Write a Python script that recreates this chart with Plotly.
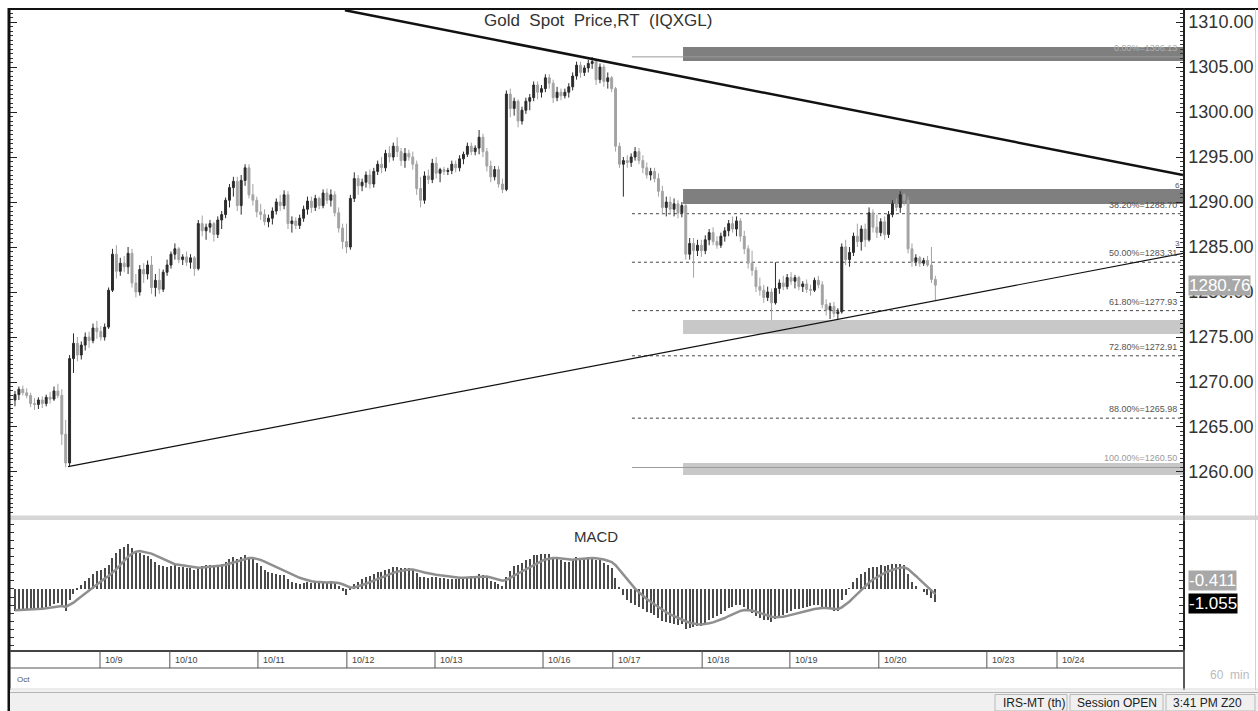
import plotly.graph_objects as go

# ---------------- data ----------------
open_ = [
 1268.0, 1268.6, 1269.2, 1268.8, 1268.5, 1267.6, 1267.5, 1268.0, 1267.6, 1268.3,
 1268.1, 1269.0, 1268.5, 1264.2, 1261.0, 1272.6, 1274.3, 1273.0, 1274.1, 1275.0,
 1274.6, 1276.0, 1275.6, 1275.0, 1276.1, 1280.2, 1284.2, 1282.3, 1283.2, 1282.8,
 1284.3, 1281.0, 1280.0, 1282.5, 1282.0, 1283.0, 1280.5, 1281.3, 1280.3, 1282.2,
 1283.0, 1284.2, 1284.8, 1283.6, 1283.9, 1283.3, 1283.8, 1282.6, 1287.6, 1286.8,
 1287.2, 1287.6, 1286.4, 1288.0, 1288.6, 1290.2, 1291.6, 1292.3, 1289.6, 1292.4,
 1293.8, 1290.8, 1290.2, 1288.9, 1288.6, 1287.8, 1288.2, 1289.0, 1290.0, 1289.6,
 1290.8, 1287.6, 1287.9, 1287.4, 1288.2, 1289.2, 1290.1, 1289.4, 1290.4, 1289.6,
 1291.0, 1290.2, 1290.8, 1288.8, 1287.1, 1285.6, 1285.0, 1290.4, 1292.6, 1291.8,
 1292.2, 1293.0, 1292.0, 1293.4, 1294.2, 1293.8, 1295.4, 1295.0, 1296.2, 1295.6,
 1294.6, 1295.4, 1295.0, 1294.2, 1291.5, 1290.2, 1292.9, 1292.5, 1294.3, 1293.2,
 1293.6, 1293.4, 1293.5, 1294.2, 1293.8, 1294.8, 1295.3, 1296.2, 1295.6, 1296.0,
 1297.2, 1295.6, 1294.0, 1292.8, 1293.6, 1292.0, 1291.4, 1302.0, 1300.4, 1301.2,
 1299.0, 1300.2, 1301.2, 1301.6, 1303.0, 1302.2, 1302.6, 1303.8, 1303.2, 1301.6,
 1302.2, 1301.8, 1302.2, 1302.8, 1304.0, 1305.2, 1304.4, 1304.9, 1305.4, 1305.6,
 1303.6, 1305.0, 1303.4, 1303.8, 1302.6, 1296.2, 1294.2, 1294.6, 1294.4, 1295.0,
 1295.6, 1294.6, 1293.8, 1293.0, 1293.4, 1292.6, 1291.2, 1289.4, 1290.0, 1289.2,
 1289.8, 1288.8, 1289.6, 1284.2, 1285.4, 1284.6, 1285.2, 1284.6, 1285.8, 1286.6,
 1285.6, 1285.2, 1286.2, 1286.8, 1287.6, 1287.0, 1287.9, 1286.2, 1284.8, 1283.2,
 1282.4, 1280.6, 1280.2, 1279.4, 1280.0, 1278.8, 1280.4, 1281.0, 1280.6, 1281.6,
 1281.2, 1281.6, 1280.6, 1280.9, 1280.3, 1280.2, 1281.3, 1280.8, 1278.6, 1278.0,
 1278.4, 1277.6, 1277.8, 1285.0, 1283.6, 1284.4, 1286.2, 1285.6, 1287.0, 1285.8,
 1288.8, 1287.2, 1286.6, 1287.8, 1286.4, 1288.6, 1289.8, 1289.4, 1290.8, 1290.2,
 1284.8, 1283.4, 1283.8, 1283.2, 1283.5, 1283.0, 1281.4]

high = [
 1269.0, 1269.5, 1269.6, 1269.3, 1268.8, 1268.2, 1268.3, 1268.4, 1268.6, 1268.9,
 1269.5, 1269.8, 1269.2, 1265.8, 1273.0, 1275.4, 1275.0, 1274.5, 1275.5, 1275.6,
 1276.5, 1276.8, 1276.2, 1276.5, 1280.5, 1284.8, 1285.2, 1283.8, 1284.0, 1285.0,
 1284.8, 1282.0, 1283.0, 1283.2, 1283.5, 1284.0, 1282.0, 1282.6, 1282.5, 1283.6,
 1284.5, 1285.4, 1285.0, 1284.2, 1284.5, 1284.2, 1284.0, 1288.0, 1288.5, 1287.6,
 1288.0, 1287.8, 1288.4, 1289.0, 1290.5, 1292.0, 1292.8, 1292.8, 1293.0, 1294.2,
 1294.2, 1292.0, 1290.6, 1289.8, 1289.2, 1288.6, 1289.4, 1290.4, 1290.8, 1291.3,
 1291.2, 1288.4, 1288.3, 1288.6, 1289.6, 1290.6, 1290.6, 1290.8, 1290.6, 1291.4,
 1291.5, 1291.4, 1291.2, 1289.4, 1287.6, 1287.6, 1290.8, 1293.3, 1293.0, 1292.6,
 1293.4, 1293.6, 1293.8, 1294.6, 1295.0, 1295.8, 1296.2, 1296.6, 1297.2, 1296.0,
 1296.0, 1295.8, 1295.6, 1294.6, 1292.8, 1293.4, 1293.6, 1294.8, 1295.0, 1293.8,
 1293.9, 1293.8, 1294.6, 1294.6, 1295.2, 1295.6, 1296.6, 1296.6, 1296.3, 1298.0,
 1297.6, 1296.0, 1294.6, 1294.0, 1294.0, 1292.6, 1302.4, 1302.6, 1301.6, 1301.4,
 1300.6, 1301.6, 1302.0, 1303.4, 1303.4, 1303.0, 1304.2, 1304.2, 1303.6, 1302.8,
 1302.6, 1302.6, 1303.2, 1304.4, 1305.6, 1305.6, 1305.2, 1305.8, 1306.1, 1305.9,
 1305.4, 1305.3, 1304.4, 1304.0, 1302.8, 1296.6, 1295.0, 1295.2, 1295.4, 1296.1,
 1296.0, 1295.2, 1294.4, 1293.8, 1293.8, 1293.2, 1291.8, 1290.6, 1290.6, 1290.4,
 1290.2, 1290.0, 1289.8, 1286.0, 1286.0, 1285.8, 1285.8, 1286.3, 1287.0, 1287.2,
 1286.2, 1286.6, 1287.2, 1288.0, 1288.4, 1288.4, 1288.2, 1286.8, 1285.2, 1284.6,
 1282.8, 1281.6, 1280.8, 1280.6, 1280.4, 1283.3, 1281.4, 1281.8, 1282.0, 1282.2,
 1281.9, 1281.8, 1281.2, 1281.4, 1280.8, 1281.6, 1281.8, 1281.2, 1279.2, 1278.8,
 1278.9, 1278.2, 1285.4, 1285.8, 1285.0, 1286.6, 1287.6, 1287.4, 1287.6, 1289.4,
 1289.2, 1288.6, 1288.2, 1288.4, 1289.0, 1290.2, 1290.4, 1291.2, 1291.0, 1290.6,
 1285.4, 1284.2, 1284.0, 1283.8, 1284.0, 1285.0, 1281.8]

low = [
 1267.3, 1268.0, 1268.5, 1268.2, 1267.2, 1266.9, 1267.0, 1267.1, 1267.3, 1267.6,
 1267.9, 1268.2, 1263.0, 1260.5, 1260.6, 1271.0, 1272.3, 1272.5, 1273.5, 1273.8,
 1274.3, 1274.8, 1274.6, 1274.6, 1275.9, 1280.0, 1281.5, 1281.8, 1282.2, 1282.0,
 1280.5, 1279.4, 1279.6, 1281.0, 1281.4, 1279.8, 1279.5, 1279.8, 1280.0, 1281.8,
 1282.6, 1283.6, 1283.2, 1283.0, 1282.9, 1282.6, 1281.8, 1282.4, 1286.2, 1285.8,
 1286.6, 1285.6, 1286.0, 1287.0, 1288.2, 1289.4, 1290.6, 1289.0, 1288.6, 1291.8,
 1290.4, 1289.6, 1288.3, 1288.0, 1287.4, 1287.2, 1287.5, 1288.6, 1289.0, 1289.2,
 1287.0, 1286.6, 1287.0, 1287.0, 1287.8, 1288.6, 1288.8, 1289.0, 1289.2, 1289.3,
 1289.8, 1289.5, 1288.4, 1286.6, 1284.8, 1284.3, 1284.7, 1290.0, 1290.8, 1291.2,
 1291.6, 1291.5, 1291.6, 1293.0, 1293.2, 1293.4, 1294.4, 1294.6, 1295.0, 1294.0,
 1293.8, 1294.6, 1293.6, 1290.8, 1289.4, 1289.8, 1292.0, 1292.1, 1292.6, 1292.2,
 1293.0, 1293.0, 1293.1, 1293.3, 1293.4, 1294.2, 1295.0, 1295.2, 1295.2, 1295.3,
 1295.0, 1293.4, 1292.2, 1292.4, 1291.6, 1291.0, 1291.2, 1299.4, 1299.6, 1298.3,
 1298.6, 1299.8, 1300.2, 1301.2, 1301.4, 1301.6, 1302.2, 1302.6, 1301.0, 1301.2,
 1301.3, 1301.5, 1301.6, 1302.4, 1303.6, 1303.8, 1304.0, 1304.4, 1304.8, 1303.0,
 1303.2, 1302.8, 1302.6, 1302.2, 1295.6, 1293.8, 1290.6, 1293.8, 1293.9, 1294.6,
 1294.2, 1293.2, 1292.6, 1292.4, 1292.2, 1290.6, 1288.6, 1288.4, 1288.6, 1288.4,
 1288.2, 1288.3, 1283.6, 1283.6, 1281.6, 1284.0, 1283.9, 1284.2, 1285.2, 1285.2,
 1284.8, 1284.9, 1285.6, 1286.2, 1286.6, 1286.2, 1285.6, 1284.2, 1282.6, 1281.8,
 1280.0, 1279.6, 1278.8, 1279.0, 1276.9, 1278.6, 1279.8, 1280.2, 1280.3, 1280.8,
 1280.4, 1280.2, 1280.0, 1279.9, 1279.6, 1280.0, 1280.4, 1278.2, 1277.4, 1277.0,
 1277.2, 1276.9, 1277.6, 1283.0, 1282.8, 1284.0, 1285.0, 1284.6, 1285.0, 1285.6,
 1286.6, 1286.0, 1286.2, 1285.8, 1286.0, 1288.3, 1289.0, 1288.8, 1289.6, 1284.3,
 1282.8, 1282.9, 1282.8, 1282.9, 1282.8, 1281.0, 1279.1]

close = [
 1268.6, 1269.2, 1268.8, 1268.5, 1267.6, 1267.5, 1268.0, 1267.6, 1268.3, 1268.1,
 1269.0, 1268.5, 1264.2, 1261.0, 1272.6, 1274.3, 1273.0, 1274.1, 1275.0, 1274.6,
 1276.0, 1275.6, 1275.0, 1276.1, 1280.2, 1284.2, 1282.3, 1283.2, 1282.8, 1284.3,
 1281.0, 1280.0, 1282.5, 1282.0, 1283.0, 1280.5, 1281.3, 1280.3, 1282.2, 1283.0,
 1284.2, 1284.8, 1283.6, 1283.9, 1283.3, 1283.8, 1282.6, 1287.6, 1286.8, 1287.2,
 1287.6, 1286.4, 1288.0, 1288.6, 1290.2, 1291.6, 1292.3, 1289.6, 1292.4, 1293.8,
 1290.8, 1290.2, 1288.9, 1288.6, 1287.8, 1288.2, 1289.0, 1290.0, 1289.6, 1290.8,
 1287.6, 1287.9, 1287.4, 1288.2, 1289.2, 1290.1, 1289.4, 1290.4, 1289.6, 1291.0,
 1290.2, 1290.8, 1288.8, 1287.1, 1285.6, 1285.0, 1290.4, 1292.6, 1291.8, 1292.2,
 1293.0, 1292.0, 1293.4, 1294.2, 1293.8, 1295.4, 1295.0, 1296.2, 1295.6, 1294.6,
 1295.4, 1295.0, 1294.2, 1291.5, 1290.2, 1292.9, 1292.5, 1294.3, 1293.2, 1293.6,
 1293.4, 1293.5, 1294.2, 1293.8, 1294.8, 1295.3, 1296.2, 1295.6, 1296.0, 1297.2,
 1295.6, 1294.0, 1292.8, 1293.6, 1292.0, 1291.4, 1302.0, 1300.4, 1301.2, 1299.0,
 1300.2, 1301.2, 1301.6, 1303.0, 1302.2, 1302.6, 1303.8, 1303.2, 1301.6, 1302.2,
 1301.8, 1302.2, 1302.8, 1304.0, 1305.2, 1304.4, 1304.9, 1305.4, 1305.6, 1303.6,
 1305.0, 1303.4, 1303.8, 1302.6, 1296.2, 1294.2, 1294.6, 1294.4, 1295.0, 1295.6,
 1294.6, 1293.8, 1293.0, 1293.4, 1292.6, 1291.2, 1289.4, 1290.0, 1289.2, 1289.8,
 1288.8, 1289.6, 1284.2, 1285.4, 1284.6, 1285.2, 1284.6, 1285.8, 1286.6, 1285.6,
 1285.2, 1286.2, 1286.8, 1287.6, 1287.0, 1287.9, 1286.2, 1284.8, 1283.2, 1282.4,
 1280.6, 1280.2, 1279.4, 1280.0, 1278.8, 1280.4, 1281.0, 1280.6, 1281.6, 1281.2,
 1281.6, 1280.6, 1280.9, 1280.3, 1280.2, 1281.3, 1280.8, 1278.6, 1278.0, 1278.4,
 1277.6, 1277.8, 1285.0, 1283.6, 1284.4, 1286.2, 1285.6, 1287.0, 1285.8, 1288.8,
 1287.2, 1286.6, 1287.8, 1286.4, 1288.6, 1289.8, 1289.4, 1290.8, 1290.2, 1284.8,
 1283.4, 1283.8, 1283.2, 1283.5, 1283.0, 1281.4, 1280.76]

macd = [
 -1.75, -1.72, -1.68, -1.64, -1.62, -1.60, -1.55, -1.50, -1.42, -1.35,
 -1.25, -1.15, -1.30, -1.75, -0.90, -0.40, -0.05, 0.30, 0.65, 0.90,
 1.20, 1.45, 1.55, 1.70, 1.95, 2.50, 2.90, 3.20, 3.40, 3.60,
 3.30, 3.00, 2.90, 2.75, 2.65, 2.40, 2.20, 1.95, 1.85, 1.80,
 1.85, 1.90, 1.80, 1.75, 1.70, 1.68, 1.55, 1.75, 1.85, 1.90,
 1.95, 1.90, 1.95, 2.00, 2.20, 2.45, 2.60, 2.45, 2.55, 2.75,
 2.60, 2.40, 2.10, 1.85, 1.55, 1.35, 1.25, 1.20, 1.10, 1.10,
 0.80, 0.60, 0.45, 0.40, 0.45, 0.55, 0.50, 0.55, 0.50, 0.60,
 0.60, 0.65, 0.45, 0.20, -0.15, -0.45, -0.05, 0.40, 0.60, 0.80,
 1.00, 1.05, 1.20, 1.35, 1.40, 1.55, 1.60, 1.75, 1.75, 1.70,
 1.72, 1.70, 1.60, 1.30, 1.00, 0.95, 0.90, 1.00, 0.95, 0.90,
 0.85, 0.80, 0.82, 0.78, 0.82, 0.88, 1.00, 1.02, 1.05, 1.20,
 1.10, 0.90, 0.65, 0.55, 0.40, 0.25, 1.00, 1.45, 1.85, 1.95,
 2.10, 2.30, 2.45, 2.70, 2.75, 2.80, 2.85, 2.80, 2.60, 2.45,
 2.30, 2.20, 2.20, 2.35, 2.55, 2.50, 2.50, 2.55, 2.60, 2.35,
 2.30, 2.10, 1.95, 1.70, 0.90, 0.10, -0.45, -0.90, -1.15, -1.30,
 -1.45, -1.65, -1.85, -1.95, -2.10, -2.30, -2.55, -2.65, -2.75, -2.80,
 -2.90, -2.85, -3.20, -3.15, -3.10, -3.00, -2.95, -2.75, -2.50, -2.35,
 -2.20, -2.00, -1.80, -1.55, -1.45, -1.30, -1.30, -1.45, -1.70, -1.90,
 -2.20, -2.35, -2.50, -2.50, -2.65, -2.45, -2.25, -2.10, -1.90, -1.80,
 -1.65, -1.60, -1.50, -1.45, -1.40, -1.30, -1.30, -1.45, -1.60, -1.65,
 -1.75, -1.75, -0.90, -0.45, 0.05, 0.55, 0.85, 1.20, 1.35, 1.70,
 1.80, 1.80, 1.90, 1.85, 1.95, 2.00, 2.00, 2.05, 1.90, 1.20,
 0.60, 0.25, 0.00, -0.25, -0.45, -0.75, -1.055]

signal = [
 -1.72, -1.71, -1.70, -1.68, -1.66, -1.64, -1.62, -1.59, -1.56, -1.52,
 -1.47, -1.41, -1.38, -1.45, -1.30, -1.10, -0.85, -0.60, -0.35, -0.10,
 0.15, 0.40, 0.62, 0.85, 1.05, 1.30, 1.60, 1.95, 2.30, 2.60,
 2.85, 3.00, 3.05, 3.00, 2.95, 2.85, 2.70, 2.55, 2.40, 2.25,
 2.10, 2.00, 1.95, 1.90, 1.85, 1.80, 1.75, 1.72, 1.74, 1.76,
 1.80, 1.83, 1.86, 1.90, 1.95, 2.05, 2.15, 2.25, 2.35, 2.45,
 2.50, 2.50, 2.45, 2.35, 2.20, 2.05, 1.90, 1.75, 1.60, 1.50,
 1.35, 1.20, 1.05, 0.90, 0.80, 0.70, 0.62, 0.58, 0.55, 0.53,
 0.53, 0.54, 0.53, 0.48, 0.38, 0.22, 0.12, 0.12, 0.20, 0.30,
 0.42, 0.55, 0.68, 0.82, 0.95, 1.07, 1.18, 1.30, 1.40, 1.47,
 1.52, 1.56, 1.57, 1.52, 1.42, 1.33, 1.25, 1.20, 1.15, 1.10,
 1.05, 1.00, 0.96, 0.93, 0.90, 0.90, 0.92, 0.94, 0.96, 1.00,
 1.02, 1.00, 0.93, 0.86, 0.77, 0.66, 0.73, 0.87, 1.07, 1.25,
 1.42, 1.60, 1.77, 1.95, 2.10, 2.25, 2.38, 2.47, 2.50, 2.50,
 2.46, 2.40, 2.36, 2.35, 2.39, 2.42, 2.44, 2.46, 2.49, 2.47,
 2.44, 2.37, 2.28, 2.17, 1.92, 1.55, 1.15, 0.75, 0.37, 0.03,
 -0.27, -0.55, -0.80, -1.03, -1.25, -1.46, -1.68, -1.88, -2.05, -2.20,
 -2.34, -2.44, -2.60, -2.72, -2.80, -2.84, -2.86, -2.84, -2.77, -2.69,
 -2.59, -2.47, -2.34, -2.18, -2.03, -1.89, -1.77, -1.70, -1.70, -1.74,
 -1.83, -1.93, -2.05, -2.14, -2.24, -2.28, -2.28, -2.24, -2.17, -2.10,
 -2.01, -1.93, -1.84, -1.76, -1.69, -1.61, -1.55, -1.53, -1.54, -1.56,
 -1.60, -1.63, -1.48, -1.28, -1.01, -0.70, -0.39, -0.07, 0.21, 0.51,
 0.77, 0.97, 1.16, 1.30, 1.43, 1.55, 1.64, 1.72, 1.75, 1.60,
 1.35, 1.05, 0.75, 0.45, 0.15, -0.15, -0.411]

# date labels (positions in bar units)
date_labels = ["10/9", "10/10", "10/11", "10/12", "10/13", "10/16",
               "10/17", "10/18", "10/19", "10/20", "10/23", "10/24"]
date_pos = [21.8, 39.7, 62.3, 85.1, 107.7, 135.4, 153.3, 176.2, 198.7, 221.5, 249.2, 267.2]

price_ticks = [1260, 1265, 1270, 1275, 1280, 1285, 1290, 1295, 1300, 1305, 1310]
price_tick_text = ["1260.00", "1265.00", "1270.00", "1275.00", "1280.00", "1285.00",
                   "1290.00", "1295.00", "1300.00", "1305.00", "1310.00"]

fib_pct = ["0.00%", "38.20%", "50.00%", "61.80%", "72.80%", "88.00%", "100.00%"]
fib_price = [1306.13, 1288.70, 1283.31, 1277.93, 1272.91, 1265.98, 1260.50]
fib_start = 158.2

zone_lo = [1305.67, 1289.78, 1275.33, 1259.67]
zone_hi = [1307.22, 1291.44, 1276.89, 1261.00]
zone_start = 171.3

resist_x = [84.6, 299.5]
resist_y = [1311.3, 1293.0]
support_x = [13.6, 299.5]
support_y = [1260.6, 1284.3]

X_MIN, X_MAX = -1.28, 299.5

# ---------------- helpers ----------------
W, H = 1258, 711
def px(x):
    return x / W
def py(y):
    return 1 - y / H

idx = list(range(len(close)))

fig = go.Figure()

fig.add_trace(go.Candlestick(
    x=idx, open=open_, high=high, low=low, close=close,
    increasing=dict(line=dict(color='#2b2b2b', width=1), fillcolor='#2b2b2b'),
    decreasing=dict(line=dict(color='#a3a3a3', width=1), fillcolor='#a3a3a3'),
    whiskerwidth=0, showlegend=False, hoverinfo='skip', xaxis='x', yaxis='y'))

fig.add_trace(go.Scatter(x=resist_x, y=resist_y, mode='lines',
                         line=dict(color='#111111', width=2.5), hoverinfo='skip',
                         showlegend=False, xaxis='x', yaxis='y'))
fig.add_trace(go.Scatter(x=support_x, y=support_y, mode='lines',
                         line=dict(color='#111111', width=1.2), hoverinfo='skip',
                         showlegend=False, xaxis='x', yaxis='y'))

fig.add_trace(go.Bar(x=idx, y=macd, width=0.3,
                     marker=dict(color='#4a4a4a', line=dict(width=0)),
                     hoverinfo='skip', showlegend=False, xaxis='x', yaxis='y2'))
fig.add_trace(go.Scatter(x=idx, y=signal, mode='lines',
                         line=dict(color='#8f8f8f', width=2.5), hoverinfo='skip',
                         showlegend=False, xaxis='x', yaxis='y2'))

shapes = []
# zones
zone_colors = ['#7f7f7f', '#7f7f7f', '#c8c8c8', '#c8c8c8']
for lo, hi, col in zip(zone_lo, zone_hi, zone_colors):
    shapes.append(dict(type='rect', xref='x', yref='y', x0=zone_start, x1=X_MAX,
                       y0=lo, y1=hi, fillcolor=col, line=dict(width=0), layer='below'))
# fib lines
for i, p in enumerate(fib_price):
    if i == 0 or i == len(fib_price) - 1:
        shapes.append(dict(type='line', xref='x', yref='y', x0=fib_start, x1=X_MAX,
                           y0=p, y1=p, line=dict(color='#9a9a9a', width=1), layer='below'))
    else:
        shapes.append(dict(type='line', xref='x', yref='y', x0=fib_start, x1=X_MAX,
                           y0=p, y1=p, line=dict(color='#444444', width=1, dash='dot'),
                           layer='below'))

# frame and panels
shapes += [
    dict(type='rect', xref='paper', yref='paper', x0=px(10), x1=1, y0=py(520), y1=py(515.5),
         fillcolor='#d6d6d6', line=dict(width=0)),
    dict(type='line', xref='paper', yref='paper', x0=px(8), x1=1, y0=py(9), y1=py(9),
         line=dict(color='#111111', width=2)),
    dict(type='line', xref='paper', yref='paper', x0=px(9), x1=px(9), y0=0, y1=py(8),
         line=dict(color='#111111', width=3)),
    dict(type='line', xref='paper', yref='paper', x0=px(1184), x1=px(1184), y0=py(690), y1=py(8),
         line=dict(color='#222222', width=1.5)),
    dict(type='line', xref='paper', yref='paper', x0=px(1255.5), x1=px(1255.5), y0=py(690), y1=py(9),
         line=dict(color='#d0d0d0', width=1)),
    dict(type='line', xref='paper', yref='paper', x0=px(10), x1=px(1184), y0=py(651), y1=py(651),
         line=dict(color='#444444', width=2)),
    dict(type='line', xref='paper', yref='paper', x0=px(10), x1=px(1184), y0=py(668), y1=py(668),
         line=dict(color='#555555', width=1)),
    # status bar
    dict(type='rect', xref='paper', yref='paper', x0=px(10), x1=1, y0=0, y1=py(690),
         fillcolor='#f0f0f0', line=dict(width=0)),
    dict(type='line', xref='paper', yref='paper', x0=px(10), x1=1, y0=py(689), y1=py(689),
         line=dict(color='#d8d8d8', width=1)),
    dict(type='line', xref='paper', yref='paper', x0=px(10), x1=1, y0=py(692.5), y1=py(692.5),
         line=dict(color='#b4b4b4', width=1)),
]
for x0, x1 in [(995, 1067), (1070, 1163), (1166, 1255)]:
    shapes.append(dict(type='rect', xref='paper', yref='paper', x0=px(x0), x1=px(x1),
                       y0=py(711), y1=py(694.5), line=dict(color='#b8b8b8', width=1),
                       fillcolor='rgba(0,0,0,0)'))
for p in date_pos:
    shapes.append(dict(type='line', xref='x', yref='paper', x0=p, x1=p, y0=py(668), y1=py(651),
                       line=dict(color='#555555', width=1)))

annotations = []
annotations.append(dict(xref='paper', yref='paper', x=px(598), y=py(21),
                        text='Gold\u00a0 Spot\u00a0 Price,RT\u00a0 (IQXGL)', showarrow=False,
                        xanchor='center', yanchor='middle',
                        font=dict(family='Liberation Sans, Arial', size=17, color='#333333')))
annotations.append(dict(xref='paper', yref='paper', x=px(596), y=py(536), text='MACD',
                        showarrow=False, xanchor='center', yanchor='middle',
                        font=dict(family='Liberation Sans, Arial', size=15, color='#333333')))
fib_colors = ['#b0b0b0', '#505050', '#555555', '#555555', '#555555', '#555555', '#9a9a9a']
for pct, p, col in zip(fib_pct, fib_price, fib_colors):
    annotations.append(dict(xref='paper', yref='y', x=px(1179), y=p, text=f"{pct}={p:.2f}",
                            showarrow=False, xanchor='right', yanchor='bottom', yshift=2,
                            font=dict(family='Liberation Sans, Arial', size=9, color=col)))
for lab, p in zip(date_labels, date_pos):
    annotations.append(dict(xref='x', yref='paper', x=p, y=py(660), text=lab, showarrow=False,
                            xanchor='left', yanchor='middle', xshift=3,
                            font=dict(family='Liberation Sans, Arial', size=9, color='#444444')))
annotations.append(dict(xref='paper', yref='paper', x=px(15), y=py(679), text='Oct', showarrow=False,
                        xanchor='left', yanchor='middle',
                        font=dict(family='Liberation Sans, Arial', size=8, color='#555555')))
annotations.append(dict(xref='paper', yref='paper', x=px(1251), y=py(675), text='60\u00a0 min',
                        showarrow=False, xanchor='right', yanchor='middle',
                        font=dict(family='Liberation Sans, Arial', size=12, color='#bbbbbb')))
# current price / MACD value tags
annotations.append(dict(xref='paper', yref='y', x=px(1188), y=close[-1], text=f"{close[-1]:.2f}",
                        showarrow=False, xanchor='left', yanchor='middle', bgcolor='#a8a8a8',
                        borderpad=0,
                        font=dict(family='Liberation Sans, Arial', size=17, color='#ffffff')))
annotations.append(dict(xref='paper', yref='paper', x=px(1188), y=py(580), text=f"{signal[-1]:.3f}",
                        showarrow=False, xanchor='left', yanchor='middle', bgcolor='#a8a8a8',
                        borderpad=0,
                        font=dict(family='Liberation Sans, Arial', size=17, color='#ffffff')))
annotations.append(dict(xref='paper', yref='paper', x=px(1188), y=py(603), text=f"{macd[-1]:.3f}",
                        showarrow=False, xanchor='left', yanchor='middle', bgcolor='#000000',
                        borderpad=0,
                        font=dict(family='Liberation Sans, Arial', size=17, color='#ffffff')))
# small marks
for t, xx, yy in [('6', 1177, 185), ('3', 1177, 243)]:
    annotations.append(dict(xref='paper', yref='paper', x=px(xx), y=py(yy), text=t, showarrow=False,
                            xanchor='center', yanchor='middle',
                            font=dict(family='Liberation Sans, Arial', size=8, color='#555555')))
# status bar texts
for t, xx in [('IRS-MT (th)', 1001), ('Session OPEN', 1075), ('3:41 PM Z20', 1171)]:
    annotations.append(dict(xref='paper', yref='paper', x=px(xx), y=py(703), text=t, showarrow=False,
                            xanchor='left', yanchor='middle',
                            font=dict(family='Liberation Sans Narrow, Liberation Sans, Arial',
                                      size=12, color='#222222')))

fig.update_layout(
    width=W, height=H, margin=dict(l=0, r=0, t=0, b=0),
    paper_bgcolor='white', plot_bgcolor='white', showlegend=False, bargap=0,
    xaxis=dict(domain=[px(10), px(1183)], range=[X_MIN, X_MAX], showticklabels=False,
               showgrid=False, zeroline=False, showline=False, ticks='',
               rangeslider=dict(visible=False), anchor='y', fixedrange=True),
    yaxis=dict(domain=[py(515), py(8)], range=[1255.22, 1311.56], side='right', anchor='x',
               tickmode='array', tickvals=price_ticks, ticktext=price_tick_text,
               ticks='inside', ticklen=7, tickwidth=1, tickcolor='#222222',
               showline=True, linecolor='#222222', linewidth=1.5, mirror='ticks',
               showgrid=False, zeroline=False,
               tickfont=dict(family='Liberation Sans, Arial', size=18, color='#333333'),
               minor=dict(tickmode='linear', tick0=1255, dtick=0.5, ticks='inside',
                          ticklen=3, tickcolor='#333333', showgrid=False)),
    yaxis2=dict(domain=[py(650), py(521)], range=[-4.92, 5.48], side='right', anchor='x',
                showticklabels=False, tickmode='linear', tick0=0, dtick=0.65,
                ticks='inside', ticklen=4, tickcolor='#333333',
                showline=True, linecolor='#222222', linewidth=1.5, mirror='ticks',
                showgrid=False, zeroline=False),
    shapes=shapes, annotations=annotations,
)

fig.write_html("out.html")
